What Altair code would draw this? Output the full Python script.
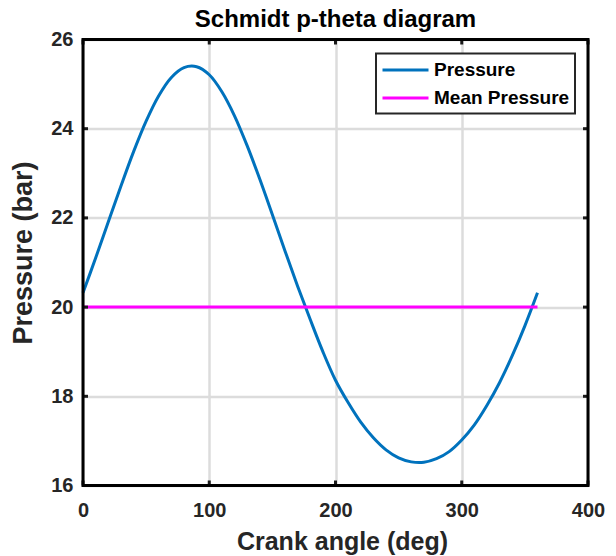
import altair as alt
import pandas as pd

# ---- data ----
theta = [0, 10, 20, 30, 40, 50, 60, 70, 80, 90, 100, 110, 120, 130, 140, 150, 160, 170, 180,
         190, 200, 210, 220, 230, 240, 250, 260, 270, 280, 290, 300, 310, 320, 330, 340, 350, 360]
pressure = [20.32, 21.10, 21.91, 22.71, 23.48, 24.17, 24.74, 25.15, 25.37, 25.39, 25.21, 24.83,
            24.29, 23.62, 22.87, 22.07, 21.26, 20.47, 19.72, 19.00, 18.36, 17.86, 17.42, 17.07,
            16.80, 16.62, 16.53, 16.52, 16.60, 16.76, 17.02, 17.36, 17.80, 18.31, 18.91, 19.58, 20.32]
mean_theta = [0, 360]
mean_pressure = [20, 20]
series_names = ["Pressure", "Mean Pressure"]
series_colors = ["#0072BD", "#FF00FF"]
xticks = [0, 100, 200, 300, 400]
yticks = [16, 18, 20, 22, 24, 26]

W, H = 505, 446
FONT = "Liberation Sans"
DARK = "#262626"
XTITLE = "Crank angle (deg)"
YTITLE = "Pressure (bar)"

df_p = pd.DataFrame({"theta": theta, "p": pressure, "series": series_names[0]})
df_m = pd.DataFrame({"theta": mean_theta, "p": mean_pressure, "series": series_names[1]})
df_xt = pd.DataFrame({"v": xticks})
df_yt = pd.DataFrame({"v": yticks})

xscale = alt.Scale(domain=[0, 400], nice=False, zero=False)
yscale = alt.Scale(domain=[16, 26], nice=False, zero=False)

xaxis = alt.Axis(values=xticks, title=XTITLE, grid=True, ticks=False, domain=False,
                 labelFont=FONT, labelFontSize=20, labelFontWeight="bold", labelColor=DARK,
                 labelPadding=15, labelFlush=False, labelOverlap=False,
                 titleFont=FONT, titleFontSize=25, titleFontWeight="bold", titleColor=DARK,
                 titleX=259, titleY=63.5, titleBaseline="alphabetic", titleAlign="center",
                 gridColor="#dcdcdc", gridWidth=2.5)
yaxis = alt.Axis(values=yticks, title=YTITLE, grid=True, ticks=False, domain=False,
                 labelFont=FONT, labelFontSize=20, labelFontWeight="bold", labelColor=DARK,
                 labelPadding=10, labelFlush=False, labelOverlap=False,
                 titleFont=FONT, titleFontSize=27, titleFontWeight="bold", titleColor=DARK,
                 titleX=-52, titleY=213, titleBaseline="alphabetic", titleAlign="center",
                 titleAngle=270,
                 gridColor="#dcdcdc", gridWidth=2.5)

color = alt.Color("series:N",
                  scale=alt.Scale(domain=series_names, range=series_colors),
                  legend=alt.Legend(orient="none", legendX=293, legendY=14, title=None,
                                    direction="vertical", symbolType="M-1,0H3.6",
                                    symbolSize=400, symbolStrokeWidth=3,
                                    labelFont=FONT, labelFontSize=19, labelFontWeight="bold",
                                    labelColor="black", labelOffset=30, rowPadding=6,
                                    padding=5, strokeColor=DARK, fillColor="white"))

pressure_line = alt.Chart(df_p).mark_line(strokeWidth=3, interpolate="catmull-rom").encode(
    x=alt.X("theta:Q", scale=xscale, axis=xaxis),
    y=alt.Y("p:Q", scale=yscale, axis=yaxis),
    color=color,
)
mean_line = alt.Chart(df_m).mark_line(strokeWidth=3).encode(
    x=alt.X("theta:Q", scale=xscale, title=XTITLE),
    y=alt.Y("p:Q", scale=yscale, title=YTITLE),
    color=color,
)

tick_style = dict(color="#1a1a1a", strokeWidth=3)
xt_bottom = alt.Chart(df_xt).mark_rule(**tick_style).encode(
    x=alt.X("v:Q", scale=xscale, title=XTITLE), y=alt.value(H), y2=alt.value(H - 5))
xt_top = alt.Chart(df_xt).mark_rule(**tick_style).encode(
    x=alt.X("v:Q", scale=xscale, title=XTITLE), y=alt.value(0), y2=alt.value(5))
yt_left = alt.Chart(df_yt).mark_rule(**tick_style).encode(
    y=alt.Y("v:Q", scale=yscale, title=YTITLE), x=alt.value(0), x2=alt.value(5))
yt_right = alt.Chart(df_yt).mark_rule(**tick_style).encode(
    y=alt.Y("v:Q", scale=yscale, title=YTITLE), x=alt.value(W), x2=alt.value(W - 5))

border = alt.Chart(alt.Data(values=[{}])).mark_rect(
    fillOpacity=0, stroke="#000000", strokeWidth=3).encode(
    x=alt.value(0), x2=alt.value(W), y=alt.value(0), y2=alt.value(H))

chart = alt.layer(
    pressure_line, mean_line, xt_bottom, xt_top, yt_left, yt_right, border
).properties(
    width=W, height=H,
    title=alt.TitleParams("Schmidt p-theta diagram", font=FONT, fontSize=24, fontWeight="bold",
                          color="black", anchor="middle", frame="group", offset=0, dy=2),
    autosize=alt.AutoSizeParams(type="none"),
    padding={"left": 75, "top": 31.5, "right": 20, "bottom": 75},
    background="white",
).configure_view(stroke=None).configure_legend(strokeWidth=2)

chart.save("out.html", embed_options={"renderer": "svg", "actions": False})
